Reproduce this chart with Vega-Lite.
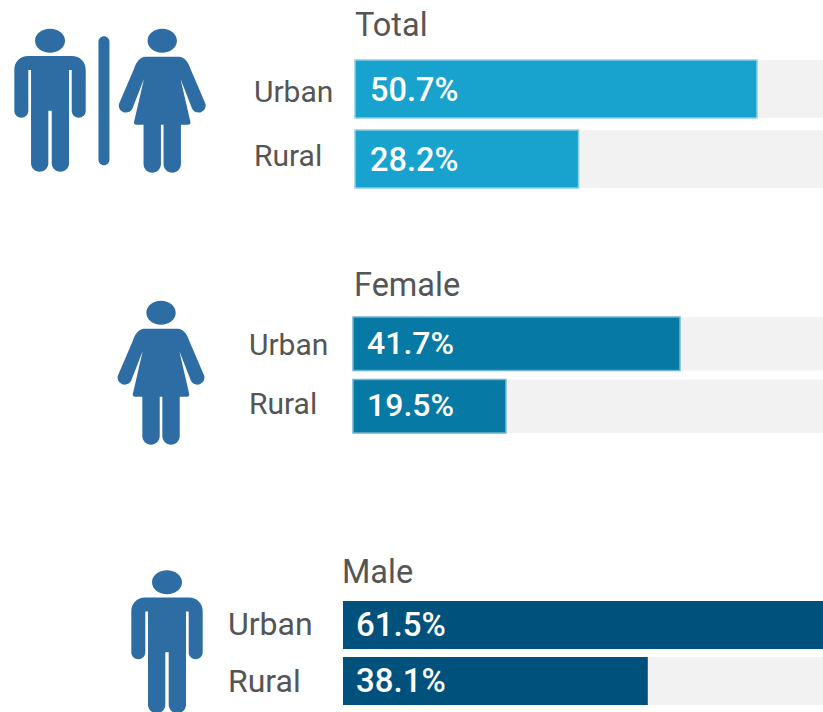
{
"$schema":"https://vega.github.io/schema/vega-lite/v6.json",
"padding":0,"background":"white","spacing":0,"bounds":"flush",
"config":{"view":{"stroke":null}},
"datasets":{"rates":[
{"group":"Total","area":"Urban","value":0.507},
{"group":"Total","area":"Rural","value":0.282},
{"group":"Female","area":"Urban","value":0.417},
{"group":"Female","area":"Rural","value":0.195},
{"group":"Male","area":"Urban","value":0.615},
{"group":"Male","area":"Rural","value":0.381}
]},
"vconcat":[
{"width":823,"height":240,"data":{"name":"rates"},"transform":[{"filter":"datum.group==='Total'"}],
"title":{"text":"Total","anchor":"start","frame":"group","dx":355,"offset":-42,"fontSize":32.5,"font":"Roboto","fontWeight":400,"color":"#555555"},
"layer":[
{"mark":{"type":"bar","color":"#f2f2f2","clip":true},"encoding":{
"x":{"datum":0,"type":"quantitative","axis":null,"scale":{"domain":[-0.4477,0.5902],"nice":false,"zero":false}},"x2":{"datum":1},
"y":{"field":"area","type":"nominal","axis":null,"scale":{"domain":["Urban","Rural"],"range":[60,188],"paddingInner":0.171,"paddingOuter":0}}}},
{"mark":{"type":"bar","color":"#18a3cf","stroke":"#8fd0e6","strokeWidth":1.5,"clip":true},"encoding":{
"x":{"field":"value","type":"quantitative","axis":null},"x2":{"datum":0},
"y":{"field":"area","type":"nominal","axis":null}}},
{"mark":{"type":"text","align":"left","baseline":"middle","dx":15,"dy":2,"color":"white","font":"Roboto","fontWeight":500,"fontSize":32.5},"encoding":{
"x":{"datum":0,"type":"quantitative"},"y":{"field":"area","type":"nominal"},"text":{"field":"value","type":"quantitative","format":".1%"}}},
{"transform":[{"filter":"datum.area==='Urban'"}],"mark":{"type":"text","align":"left","baseline":"middle","dy":4,"color":"#555555","font":"Roboto","fontSize":30},"encoding":{
"x":{"datum":-0.1274,"type":"quantitative"},"y":{"field":"area","type":"nominal"},"text":{"field":"area"}}},
{"transform":[{"filter":"datum.area==='Rural'"}],"mark":{"type":"text","align":"left","baseline":"middle","dy":-2,"color":"#555555","font":"Roboto","fontSize":30},"encoding":{
"x":{"datum":-0.1274,"type":"quantitative"},"y":{"field":"area","type":"nominal"},"text":{"field":"area"}}},
{"transform":[{"filter":"datum.area==='Urban'"}],"mark":{"type":"point","filled":true,"opacity":1,"color":"#2e6da4","yOffset":11.7,"size":40000,
"shape":"M-0.15,-0.6A0.15,0.12,0,1,1,0.15,-0.6A0.15,0.12,0,1,1,-0.15,-0.6ZM-0.217,-0.447H0.217C0.3,-0.447,0.357,-0.39,0.357,-0.307V0.1A0.07,0.07,0,0,1,0.217,0.1V-0.307H0.19V0.633A0.087,0.087,0,0,1,0.017,0.633V0.1H-0.017V0.633A0.087,0.087,0,0,1,-0.19,0.633V-0.307H-0.217V0.1A0.07,0.07,0,0,1,-0.357,0.1V-0.307C-0.357,-0.39,-0.3,-0.447,-0.217,-0.447Z"},"encoding":{
"x":{"datum":-0.3846,"type":"quantitative"},"y":{"field":"area","type":"nominal"}}},
{"transform":[{"filter":"datum.area==='Urban'"}],"mark":{"type":"point","filled":true,"opacity":1,"color":"#2e6da4","yOffset":11.7,"size":40000,
"shape":"M-0.055,-0.59A0.055,0.055,0,0,1,0.055,-0.59V0.59A0.055,0.055,0,0,1,-0.055,0.59Z"},"encoding":{
"x":{"datum":-0.3166,"type":"quantitative"},"y":{"field":"area","type":"nominal"}}},
{"transform":[{"filter":"datum.area==='Urban'"}],"mark":{"type":"point","filled":true,"opacity":1,"color":"#2e6da4","yOffset":11.7,"size":40000,
"shape":"M-0.147,-0.6A0.147,0.12,0,1,1,0.147,-0.6A0.147,0.12,0,1,1,-0.147,-0.6ZM-0.167,-0.44H0.167C0.22,-0.44,0.26,-0.39,0.283,-0.317L0.433,0.033A0.072,0.072,0,0,1,0.3,0.083L0.183,-0.217L0.283,0.217Q0.283,0.24,0.26,0.24H0.187V0.633A0.087,0.087,0,0,1,0.013,0.633V0.24H-0.013V0.633A0.087,0.087,0,0,1,-0.187,0.633V0.24H-0.26Q-0.283,0.24,-0.283,0.217L-0.183,-0.217L-0.3,0.083A0.072,0.072,0,0,1,-0.433,0.033L-0.283,-0.317C-0.26,-0.39,-0.22,-0.44,-0.167,-0.44Z"},"encoding":{
"x":{"datum":-0.2431,"type":"quantitative"},"y":{"field":"area","type":"nominal"}}}
]},
{"width":823,"height":280,"data":{"name":"rates"},"transform":[{"filter":"datum.group==='Female'"}],
"title":{"text":"Female","anchor":"start","frame":"group","dx":354,"offset":-62,"fontSize":32.5,"font":"Roboto","fontWeight":400,"color":"#555555"},
"layer":[
{"mark":{"type":"bar","color":"#f2f2f2","clip":true},"encoding":{
"x":{"datum":0,"type":"quantitative","axis":null,"scale":{"domain":[-0.4503,0.5995],"nice":false,"zero":false}},"x2":{"datum":1},
"y":{"field":"area","type":"nominal","axis":null,"scale":{"domain":["Urban","Rural"],"range":[77,193],"paddingInner":0.144,"paddingOuter":0}}}},
{"mark":{"type":"bar","color":"#0779a5","stroke":"#6fb3cd","strokeWidth":1.5,"clip":true},"encoding":{
"x":{"field":"value","type":"quantitative","axis":null},"x2":{"datum":0},
"y":{"field":"area","type":"nominal","axis":null}}},
{"mark":{"type":"text","align":"left","baseline":"middle","dx":14,"color":"white","font":"Roboto","fontWeight":500,"fontSize":32},"encoding":{
"x":{"datum":0,"type":"quantitative"},"y":{"field":"area","type":"nominal"},"text":{"field":"value","type":"quantitative","format":".1%"}}},
{"transform":[{"filter":"datum.area==='Urban'"}],"mark":{"type":"text","align":"left","baseline":"middle","dy":2,"color":"#555555","font":"Roboto","fontSize":30},"encoding":{
"x":{"datum":-0.1327,"type":"quantitative"},"y":{"field":"area","type":"nominal"},"text":{"field":"area"}}},
{"transform":[{"filter":"datum.area==='Rural'"}],"mark":{"type":"text","align":"left","baseline":"middle","dy":-1,"color":"#555555","font":"Roboto","fontSize":30},"encoding":{
"x":{"datum":-0.1327,"type":"quantitative"},"y":{"field":"area","type":"nominal"},"text":{"field":"area"}}},
{"transform":[{"filter":"datum.area==='Urban'"}],"mark":{"type":"point","filled":true,"opacity":1,"color":"#2e6da4","yOffset":29,"size":40000,
"shape":"M-0.147,-0.6A0.147,0.12,0,1,1,0.147,-0.6A0.147,0.12,0,1,1,-0.147,-0.6ZM-0.167,-0.44H0.167C0.22,-0.44,0.26,-0.39,0.283,-0.317L0.433,0.033A0.072,0.072,0,0,1,0.3,0.083L0.183,-0.217L0.283,0.217Q0.283,0.24,0.26,0.24H0.187V0.633A0.087,0.087,0,0,1,0.013,0.633V0.24H-0.013V0.633A0.087,0.087,0,0,1,-0.187,0.633V0.24H-0.26Q-0.283,0.24,-0.283,0.217L-0.183,-0.217L-0.3,0.083A0.072,0.072,0,0,1,-0.433,0.033L-0.283,-0.317C-0.26,-0.39,-0.22,-0.44,-0.167,-0.44Z"},"encoding":{
"x":{"datum":-0.2449,"type":"quantitative"},"y":{"field":"area","type":"nominal"}}}
]},
{"width":823,"height":192,"data":{"name":"rates"},"transform":[{"filter":"datum.group==='Male'"}],
"title":{"text":"Male","anchor":"start","frame":"group","dx":342,"offset":-69,"fontSize":32.5,"font":"Roboto","fontWeight":400,"color":"#555555"},
"layer":[
{"mark":{"type":"bar","color":"#f2f2f2","clip":true},"encoding":{
"x":{"datum":0,"type":"quantitative","axis":null,"scale":{"domain":[-0.42875,0.6],"nice":false,"zero":false}},"x2":{"datum":1},
"y":{"field":"area","type":"nominal","axis":null,"scale":{"domain":["Urban","Rural"],"range":[81,185],"paddingInner":0.143,"paddingOuter":0}}}},
{"mark":{"type":"bar","color":"#00527c","clip":true},"encoding":{
"x":{"field":"value","type":"quantitative","axis":null},"x2":{"datum":0},
"y":{"field":"area","type":"nominal","axis":null}}},
{"mark":{"type":"text","align":"left","baseline":"middle","dx":13,"dy":1,"color":"white","font":"Roboto","fontWeight":500,"fontSize":33},"encoding":{
"x":{"datum":0,"type":"quantitative"},"y":{"field":"area","type":"nominal"},"text":{"field":"value","type":"quantitative","format":".1%"}}},
{"transform":[{"filter":"datum.area==='Urban'"}],"mark":{"type":"text","align":"left","baseline":"middle","dy":0,"color":"#555555","font":"Roboto","fontSize":32},"encoding":{
"x":{"datum":-0.14375,"type":"quantitative"},"y":{"field":"area","type":"nominal"},"text":{"field":"area"}}},
{"transform":[{"filter":"datum.area==='Rural'"}],"mark":{"type":"text","align":"left","baseline":"middle","dy":1,"color":"#555555","font":"Roboto","fontSize":32},"encoding":{
"x":{"datum":-0.14375,"type":"quantitative"},"y":{"field":"area","type":"nominal"},"text":{"field":"area"}}},
{"transform":[{"filter":"datum.area==='Urban'"}],"mark":{"type":"point","filled":true,"opacity":1,"color":"#2e6da4","yOffset":17.3,"size":40000,
"shape":"M-0.15,-0.6A0.15,0.12,0,1,1,0.15,-0.6A0.15,0.12,0,1,1,-0.15,-0.6ZM-0.217,-0.447H0.217C0.3,-0.447,0.357,-0.39,0.357,-0.307V0.1A0.07,0.07,0,0,1,0.217,0.1V-0.307H0.19V0.633A0.087,0.087,0,0,1,0.017,0.633V0.1H-0.017V0.633A0.087,0.087,0,0,1,-0.19,0.633V-0.307H-0.217V0.1A0.07,0.07,0,0,1,-0.357,0.1V-0.307C-0.357,-0.39,-0.3,-0.447,-0.217,-0.447Z"},"encoding":{
"x":{"datum":-0.22,"type":"quantitative"},"y":{"field":"area","type":"nominal"}}}
]}
]
}
